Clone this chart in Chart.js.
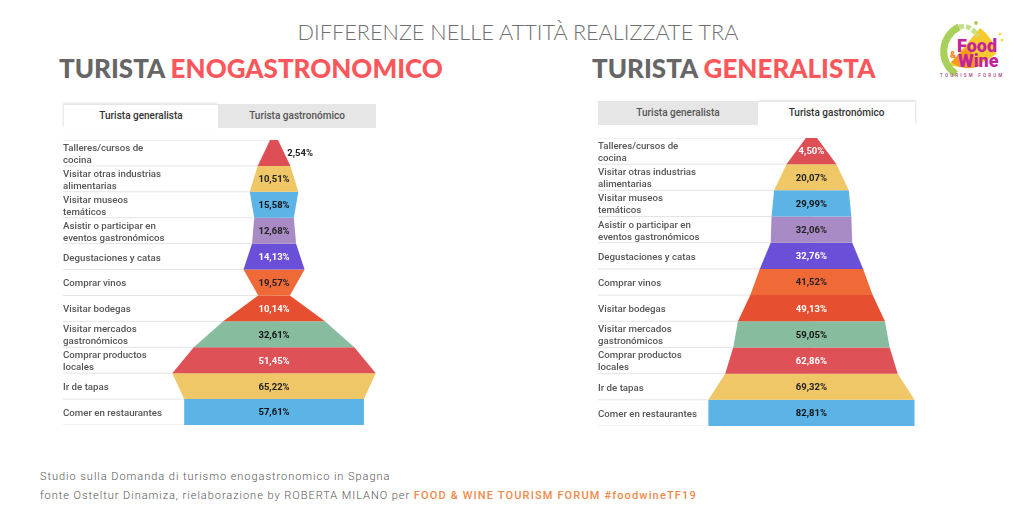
<!DOCTYPE html>
<html lang="it">
<head>
<meta charset="utf-8">
<title>Differenze nelle attività</title>
<script src="https://cdn.jsdelivr.net/npm/chart.js@4"></script>
<style>
  html, body { margin: 0; padding: 0; background: #fff; }
  #page { position: relative; width: 1024px; height: 512px; overflow: hidden; font-family: Roboto, sans-serif; }
  #page > * { position: absolute; }
  .heading { top: 19px; left: 0; width: 1036px; text-align: center; font: 300 21.7px Lato, sans-serif; color: #6f6f6f; }
  .title { font: 900 26px Lato, sans-serif; color: #666; white-space: nowrap; }
  .title span { color: #f9575b; }
  .tab { box-sizing: border-box; height: 24px; text-align: center; font: 500 10px/23px Roboto, sans-serif; color: #555; }
  .tab.off { background: #e6e6e6; }
  .tab.on { background: #fff; color: #333; border-top: 1px solid #e6e6e6; line-height: 22px; }
  .chart-box canvas { display: block; }
  .source { font: 300 11px Roboto, sans-serif; letter-spacing: .97px; color: #555; white-space: nowrap; }
  .source b { font-weight: 500; letter-spacing: 1.15px; color: #f08a4b; }
</style>
</head>
<body>
<div id="page">
  <div class="heading">DIFFERENZE NELLE ATTITÀ REALIZZATE TRA</div>
  <div class="title" style="left:59px;top:52px">TURISTA <span>ENOGASTRONOMICO</span></div>
  <div class="title" style="left:592px;top:52px">TURISTA <span>GENERALISTA</span></div>

  <div class="tab on" style="left:64px;top:104px;width:154px;box-shadow:-1px -1px 2px #e4e4e4">Turista generalista</div>
  <div class="tab off" style="left:218px;top:104px;width:158px">Turista gastronómico</div>
  <div class="tab off" style="left:598px;top:101px;width:160px">Turista generalista</div>
  <div class="tab on" style="left:758px;top:101px;width:157px;box-shadow:1px -1px 2px #e4e4e4">Turista gastronómico</div>

  <div class="chart-box" style="left:63px;top:139px;width:314px;height:288px"><canvas id="chart-left"></canvas></div>
  <div class="chart-box" style="left:598px;top:137px;width:318px;height:291px"><canvas id="chart-right"></canvas></div>

  <div class="source" style="left:40px;top:470px">Studio sulla Domanda di turismo enogastronomico in Spagna</div>
  <div class="source" style="left:40px;top:489px">fonte Osteltur Dinamiza, rielaborazione by ROBERTA MILANO per <b>FOOD &amp; WINE TOURISM FORUM #foodwineTF19</b></div>

  <svg style="left:918px;top:10px" width="106" height="80" viewBox="0 0 106 80">
    <path d="M62 18 L31 55 Q55 62 78 44 Q76 28 62 18Z" fill="#f7c92e"/>
    <path d="M33 52 L50 36 L62 56 Q46 62 33 52Z" fill="#f39a1e"/>
    <path d="M38 64 A27 27 0 0 1 41 17" fill="none" stroke="#a9d05a" stroke-width="7"/>
    <path d="M41 17 Q52 14 60 26" fill="none" stroke="#c5e08c" stroke-width="5" stroke-dasharray="5 2"/>
    <circle cx="58" cy="13" r="2" fill="#a9d05a"/>
    <circle cx="82" cy="24" r="1.5" fill="#f7dc50"/><circle cx="84" cy="30" r="1.5" fill="#f7dc50"/>
    <text x="39" y="42" font-family="Roboto" font-weight="900" font-size="18" fill="#c3249b">Food</text>
    <text x="32" y="48" font-family="Roboto" font-weight="900" font-size="9" fill="#f2861f">&amp;</text>
    <text x="40" y="57" font-family="Roboto" font-weight="900" font-size="18" fill="#c3249b">Wine</text>
    <text x="22" y="67" font-family="Roboto" font-weight="500" font-size="4.5" letter-spacing="2.2" fill="#a0427f">TOURISM FORUM</text>
  </svg>
</div>

<script>
'use strict';

// ── Data ───────────────────────────────────────────────────────────────────
const CATEGORIES = [
  ['Talleres/cursos de', 'cocina'],
  ['Visitar otras industrias', 'alimentarias'],
  ['Visitar museos', 'temáticos'],
  ['Asistir o participar en', 'eventos gastronómicos'],
  'Degustaciones y catas',
  'Comprar vinos',
  'Visitar bodegas',
  ['Visitar mercados', 'gastronómicos'],
  ['Comprar productos', 'locales'],
  'Ir de tapas',
  'Comer en restaurantes',
];
const GENERALISTA_VALUES  = [2.54, 10.51, 15.58, 12.68, 14.13, 19.57, 10.14, 32.61, 51.45, 65.22, 57.61];
const GASTRONOMICO_VALUES = [4.50, 20.07, 29.99, 32.06, 32.76, 41.52, 49.13, 59.05, 62.86, 69.32, 82.81];
const ROW_COLORS = ['#de4e55', '#efc767', '#5bb4e5', '#a88bc4', '#6a4fd8', '#f06a38',
                    '#e64f30', '#87bc9f', '#dd5157', '#efc767', '#5bb4e5'];
const LABEL_COLORS = ['#fff', '#222', '#111', '#222', '#fff', '#222', '#fff', '#111', '#fff', '#222', '#111'];

// ── Helpers ────────────────────────────────────────────────────────────────
function pct(v) { return v.toFixed(2).replace('.', ',') + '%'; }

// one closed trapezoid per row: top edge = own value, bottom edge = next value
function rowShape(values, i) {
  const top = values[i];
  const bottom = i + 1 < values.length ? values[i + 1] : top;
  return [
    { x: -top, y: i }, { x: top, y: i },
    { x: bottom, y: i + 1 }, { x: -bottom, y: i + 1 },
    { x: -top, y: i },
  ];
}

const percentLabels = {
  id: 'percentLabels',
  afterDatasetsDraw(chart, _args, opts) {
    const { ctx, scales: { x, y } } = chart;
    ctx.save();
    ctx.font = '700 9.5px Roboto, sans-serif';
    ctx.textBaseline = 'middle';
    opts.values.forEach((v, i) => {
      const outside = v < 4;
      ctx.textAlign = outside ? 'left' : 'center';
      ctx.fillStyle = outside ? '#222' : LABEL_COLORS[i];
      const next = opts.values[i + 1];
      const px = outside ? x.getPixelForValue((v + next) / 2) + 3 : x.getPixelForValue(0);
      ctx.fillText(pct(v), px, y.getPixelForValue(i + 0.5) + 1);
    });
    ctx.restore();
  }
};

function makeFunnel(canvasId, values, xMin, xMax) {
  const funnel = values.map((_, i) => ({
    data: rowShape(values, i),
    showLine: true, fill: 'shape', tension: 0,
    backgroundColor: ROW_COLORS[i], borderWidth: 0, pointRadius: 0,
  }));
  const rules = [...values, 0].map((_, i) => ({
    data: [{ x: xMin, y: i }, { x: 0, y: i }],
    showLine: true, borderColor: '#e4e4e4', borderWidth: 1, pointRadius: 0,
  }));
  new Chart(document.getElementById(canvasId), {
    type: 'scatter',
    data: { datasets: [...funnel, ...rules] },
    plugins: [percentLabels],
    options: {
      responsive: true,
      maintainAspectRatio: false,
      animation: false,
      layout: { padding: { top: 1, bottom: 2 } },
      plugins: {
        legend: { display: false },
        tooltip: { enabled: false },
        percentLabels: { values },
      },
      scales: {
        x: { type: 'linear', min: xMin, max: xMax, display: false },
        y: {
          type: 'linear', min: 0, max: values.length, reverse: true,
          grid: { display: false, drawTicks: false }, border: { display: false },
          afterBuildTicks: axis => { axis.ticks = values.map((_, i) => ({ value: i + 0.5 })); },
          // labels sit inside the plot, so no room is needed for them
          afterFit: axis => { axis.paddingTop = 0; axis.paddingBottom = 0; },
          ticks: {
            mirror: true, padding: 0, autoSkip: false, labelOffset: 1.5,
            color: '#555', font: { family: 'Roboto', size: 9.7, weight: '500', lineHeight: 1.24 },
            callback: value => CATEGORIES[Math.floor(value)],
          },
        },
      },
    },
  });
}

// ── Initialise ─────────────────────────────────────────────────────────────
makeFunnel('chart-left', GENERALISTA_VALUES, -135.3, 66);
makeFunnel('chart-right', GASTRONOMICO_VALUES, -171.5, 84);
</script>
</body>
</html>
